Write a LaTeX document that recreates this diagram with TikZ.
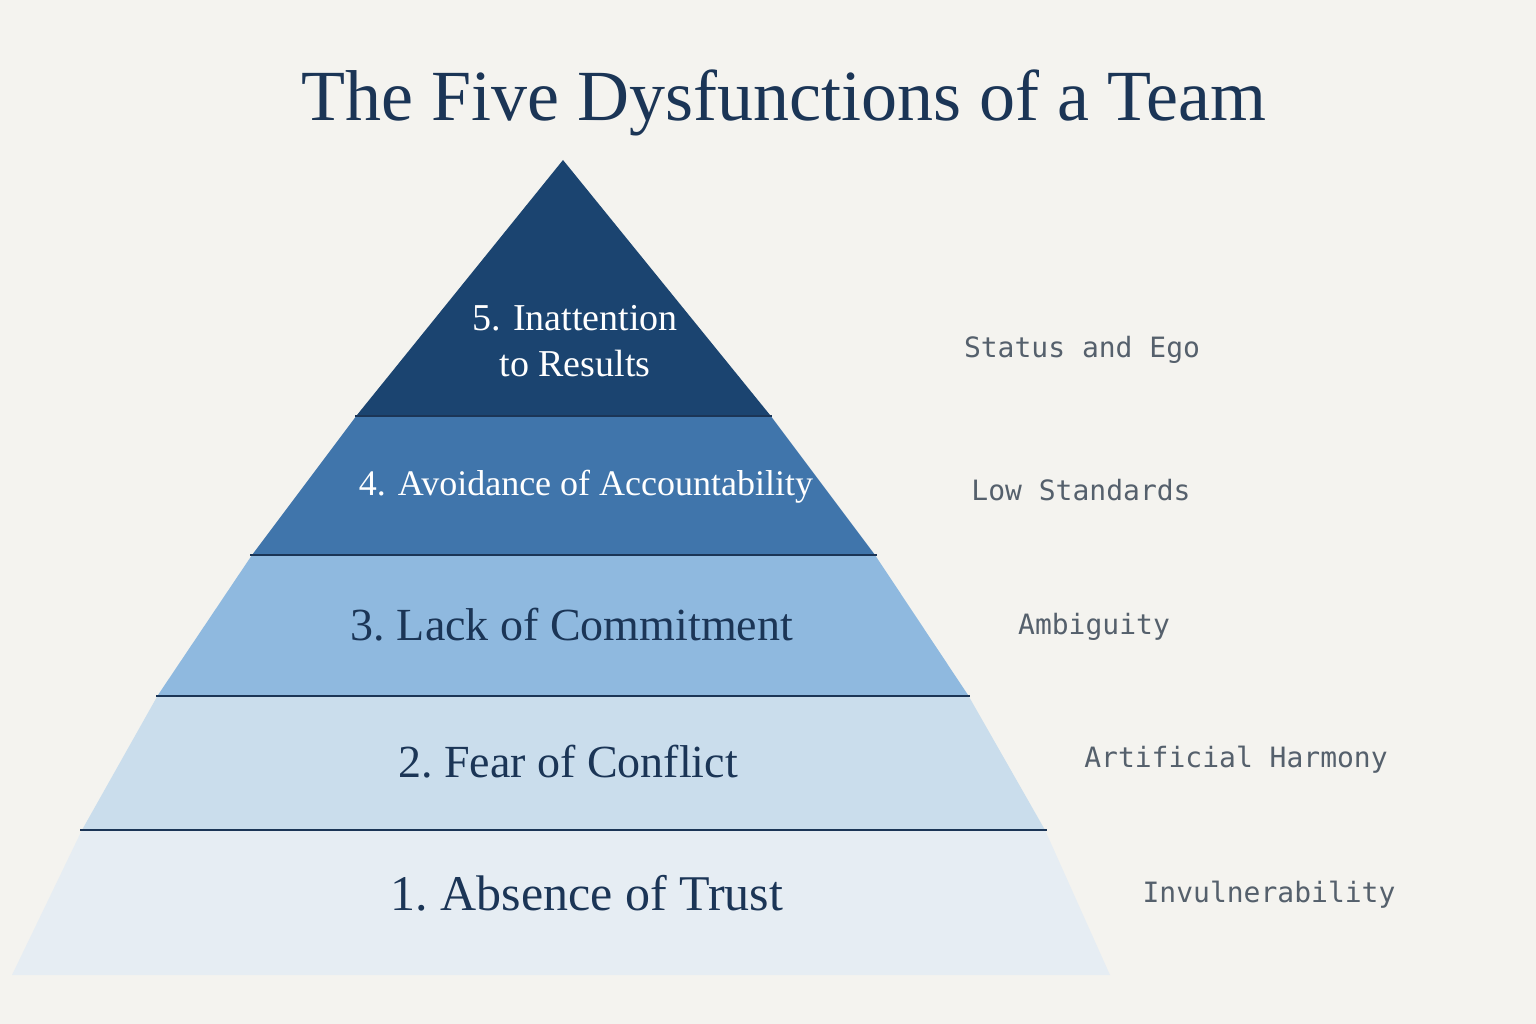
\documentclass[tikz,border=0pt]{standalone}
\usepackage{fontspec}
\setmainfont{Liberation Serif}
\newfontfamily\monof{DejaVu Sans Mono}
\definecolor{bg}{HTML}{F4F3EF}
\definecolor{navy}{HTML}{1B3556}
\definecolor{cA}{HTML}{1B4470}
\definecolor{cB}{HTML}{4075AB}
\definecolor{cC}{HTML}{8FB9DF}
\definecolor{cD}{HTML}{CADDEC}
\definecolor{cE}{HTML}{E6EDF3}
\definecolor{grayt}{HTML}{55606C}
\begin{document}
\begin{tikzpicture}[x=1pt,y=-1pt,
  sep/.style={draw=navy,line width=2pt},
  lvl/.style={text=navy,align=center,inner sep=0pt},
  side/.style={text=grayt,font=\monof\fontsize{28}{30}\selectfont,inner sep=0pt}]
\fill[bg] (0,0) rectangle (1536,1024);
\useasboundingbox (0,0) rectangle (1536,1024);
\node[lvl,font=\fontsize{72}{80}\selectfont] (title) at (784,103) {The Five Dysfunctions of a Team};
\fill[cE] (82,830) -- (1045,830) -- (1110,975) -- (12,975) -- cycle;
\fill[cD] (158,695) -- (968,695) -- (1045,830) -- (82,830) -- cycle;
\fill[cC] (252,555) -- (875,555) -- (968,695) -- (158,695) -- cycle;
\fill[cB] (357,415) -- (770,415) -- (875,555) -- (252,555) -- cycle;
\fill[cA] (563,160) -- (770,415) -- (357,415) -- cycle;
\draw[sep] (355,416) -- (772,416);
\draw[sep] (250,555) -- (877,555);
\draw[sep] (156,696) -- (970,696);
\draw[sep] (80,830) -- (1047,830);
\node[lvl,text=white,font=\fontsize{38}{46}\selectfont] (l5) at (575,341) {5. Inattention\\to Results};
\node[lvl,text=white,font=\fontsize{36}{40}\selectfont] (l4) at (586,487) {4. Avoidance of Accountability};
\node[lvl,font=\fontsize{46}{50}\selectfont] (l3) at (572,625) {3.\ Lack of Commitment};
\node[lvl,font=\fontsize{46}{50}\selectfont] (l2) at (568,762) {2.\ Fear of Conflict};
\node[lvl,font=\fontsize{50}{54}\selectfont] (l1) at (587,893) {1.\ Absence of Trust};
\node[side] (s5) at (1082,350) {Status and Ego};
\node[side] (s4) at (1081,490) {Low Standards};
\node[side] (s3) at (1094,627) {Ambiguity};
\node[side] (s2) at (1236,760) {Artificial Harmony};
\node[side] (s1) at (1269,895) {Invulnerability};
\end{tikzpicture}
\end{document}
